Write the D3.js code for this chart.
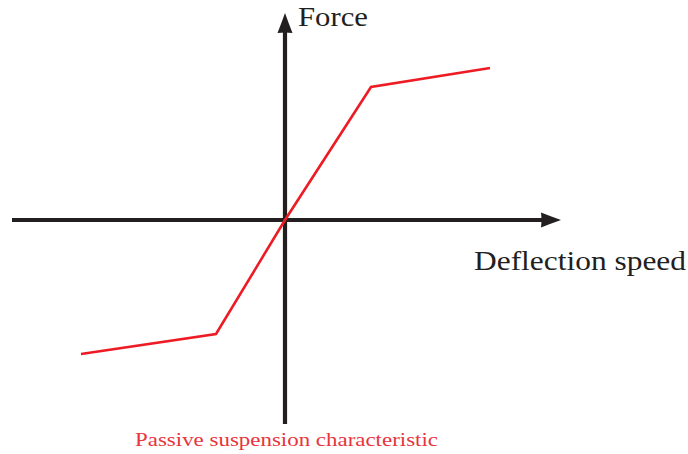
<!DOCTYPE html>
<html><head><meta charset="utf-8">
<script src="https://cdn.jsdelivr.net/npm/d3@7"></script>
<style>html,body{margin:0;padding:0;background:#fff;}</style>
</head><body>
<script>
const speed = [-20.4, -6.9, 0, 8.6, 20.5];
const force = [-13.4, -11.4, 0, 13.3, 15.2];
const xLabel = "Deflection speed";
const yLabel = "Force";
const caption = "Passive suspension characteristic";
const xExtent = [-27.3, 27.6];
const yExtent = [-20.4, 20.7];

const W = 688, H = 454;
const svg = d3.select("body").append("svg").attr("width", W).attr("height", H);
const x = d3.scaleLinear().domain([-1, 1]).range([285 - 10, 285 + 10]);
const y = d3.scaleLinear().domain([-1, 1]).range([220 + 10, 220 - 10]);

const axisColor = "#231f20";
const red = "#ed1c24";
const serif = "'Liberation Serif', 'Times New Roman', serif";

function arrowHead(tipX, tipY, dir) {
  const L = 20, hw = 7.5, n = 0.94;
  const d = `M0,0 Q${-L*0.5},${-hw*0.47} ${-L},${-hw} Q${-L*n},0 ${-L},${hw} Q${-L*0.5},${hw*0.47} 0,0Z`;
  const rot = dir === "right" ? 0 : -90;
  svg.append("path").attr("d", d)
    .attr("transform", `translate(${tipX},${tipY}) rotate(${rot})`)
    .attr("fill", axisColor);
}

svg.append("line")
  .attr("x1", x(xExtent[0])).attr("x2", x(xExtent[1]) - 12)
  .attr("y1", y(0)).attr("y2", y(0))
  .attr("stroke", axisColor).attr("stroke-width", 4.2);
arrowHead(x(xExtent[1]), y(0), "right");

svg.append("line")
  .attr("x1", x(0)).attr("x2", x(0))
  .attr("y1", y(yExtent[0])).attr("y2", y(yExtent[1]) + 12)
  .attr("stroke", axisColor).attr("stroke-width", 4.2);
arrowHead(x(0), y(yExtent[1]), "up");

const data = speed.map((s, i) => [s, force[i]]);
svg.append("path")
  .datum(data)
  .attr("d", d3.line().x(d => x(d[0])).y(d => y(d[1])))
  .attr("fill", "none").attr("stroke", red).attr("stroke-width", 2.6)
  .attr("stroke-linejoin", "miter");

svg.append("text").attr("x", 298).attr("y", 26)
  .attr("font-family", serif).attr("font-size", 28)
  .attr("textLength", 70).attr("lengthAdjust", "spacingAndGlyphs")
  .attr("fill", axisColor).text(yLabel);
svg.append("text").attr("x", 474).attr("y", 270)
  .attr("font-family", serif).attr("font-size", 28)
  .attr("textLength", 212).attr("lengthAdjust", "spacingAndGlyphs")
  .attr("fill", axisColor).text(xLabel);
svg.append("text").attr("x", 135).attr("y", 446)
  .attr("font-family", serif).attr("font-size", 19)
  .attr("textLength", 303).attr("lengthAdjust", "spacingAndGlyphs")
  .attr("fill", "#e8343c").text(caption);
</script>
</body></html>
